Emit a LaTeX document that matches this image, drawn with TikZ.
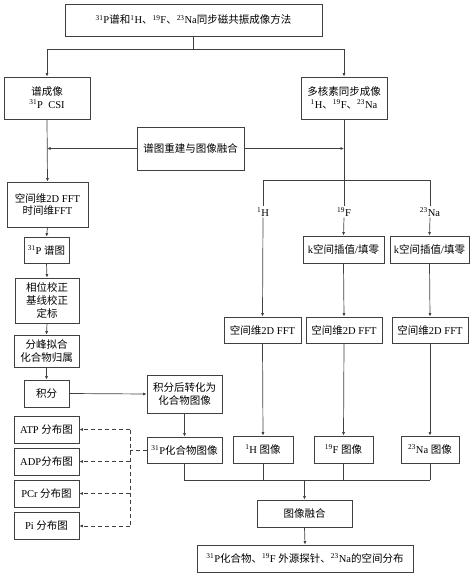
\documentclass[tikz,border=0pt]{standalone}
\usepackage{fontspec}
\setmainfont{Liberation Serif}
\newfontfamily\cjk{Noto Sans CJK SC}
\usepackage{tikz}
\usetikzlibrary{arrows.meta}
\newcommand{\zh}[1]{{\cjk #1}}
\newcommand{\nuc}[2]{\textsuperscript{#1}#2}

\begin{document}
\begin{tikzpicture}[
  x=1pt, y=-1pt,
  every node/.style={font=\fontsize{10.5}{12.8}\selectfont},
  box/.style={draw=black!75, line width=0.7pt, align=center, inner sep=1pt},
  lbl/.style={inner sep=1pt},
  arr/.style={-{Latex[length=3.5pt,width=3pt]}, line width=0.7pt, draw=black!75},
  ln/.style={line width=0.7pt, draw=black!75},
  darr/.style={-{Latex[length=3.5pt,width=3pt]}, line width=0.7pt, draw=black!75, dashed, dash pattern=on 4pt off 3pt}
]
\useasboundingbox (0,0) rectangle (474,576);

%% Top: method
\node[box, minimum width=257pt, minimum height=32pt] (method) at (193.5,20)
  {\nuc{31}{P}\zh{谱和}\nuc{1}{H}\zh{、}\nuc{19}{F}\zh{、}\nuc{23}{Na}\zh{同步磁共振成像方法}};
\node[box, minimum width=86pt, minimum height=42pt] (spec) at (47,98)
  {\zh{谱成像}\\\nuc{31}{P}~~CSI};
\node[box, minimum width=86pt, minimum height=42pt] (multi) at (344,98)
  {\zh{多核素同步成像}\\\nuc{1}{H}\zh{、}\nuc{19}{F}\zh{、}\nuc{23}{Na}};
\coordinate (split) at (193.5,49);
\coordinate (splitL) at (47,49);
\coordinate (splitR) at (344,49);
\draw[ln] (method.south) -- (split);
\draw[arr] (split) -- (splitL) -- (spec.north);
\draw[arr] (split) -- (splitR) -- (multi.north);

%% Reconstruction and fusion
\node[box, minimum width=107pt, minimum height=43pt] (recon) at (190.5,148.5) {\zh{谱图重建与图像融合}};
\coordinate (reconL) at (47,148.5);
\coordinate (reconR) at (344,148.5);
\draw[arr] (recon.west) -- (reconL);
\draw[arr] (recon.east) -- (reconR);

%% 31P spectral branch
\node[box, minimum width=81pt, minimum height=45pt] (fft) at (47.5,204.5)
  {\zh{空间维}2D FFT\\\zh{时间维}FFT};
\node[box, minimum width=45pt, minimum height=26pt] (pmap) at (46.5,250) {\nuc{31}{P} \zh{谱图}};
\node[box, minimum width=64pt, minimum height=45pt] (corr) at (47,300.5)
  {\zh{相位校正}\\\zh{基线校正}\\\zh{定标}};
\node[box, minimum width=65pt, minimum height=32pt] (fit) at (46.5,351)
  {\zh{分峰拟合}\\\zh{化合物归属}};
\node[box, minimum width=45pt, minimum height=27pt] (integ) at (46.5,393.5) {\zh{积分}};
\node[box, minimum width=75pt, minimum height=38pt] (conv) at (184.5,394)
  {\zh{积分后转化为}\\\zh{化合物图像}};
\node[box, minimum width=75pt, minimum height=26pt] (pimg) at (184.5,450) {\nuc{31}{P}\zh{化合物图像}};
\draw[arr] (spec.south) -- (fft.north);
\draw[arr] (fft.south) -- (pmap.north);
\draw[arr] (pmap.south) -- (corr.north);
\draw[arr] (corr.south) -- (fit.north);
\draw[arr] (fit.south) -- (integ.north);
\draw[arr] (integ.east) -- (conv.west);
\draw[arr] (conv.south) -- (pimg.north);

%% Compound maps
\node[box, minimum width=65pt, minimum height=27pt] (atp) at (46.5,429.5) {ATP \zh{分布图}};
\node[box, minimum width=65pt, minimum height=27pt] (adp) at (46.5,461.5) {ADP\zh{分布图}};
\node[box, minimum width=65pt, minimum height=27pt] (pcr) at (46.5,493.5) {PCr \zh{分布图}};
\node[box, minimum width=65pt, minimum height=27pt] (pi) at (46.5,526) {Pi \zh{分布图}};
\coordinate (dmid) at (130,450);
\coordinate (datp) at (130,429.5);
\coordinate (dadp) at (130,461.5);
\coordinate (dpcr) at (130,493.5);
\coordinate (dpi) at (130,526);
\draw[ln, dashed, dash pattern=on 4pt off 3pt] (pimg.west) -- (dmid);
\draw[ln, dashed, dash pattern=on 4pt off 3pt] (datp) -- (dpi);
\draw[darr] (datp) -- (atp.east);
\draw[darr] (dadp) -- (adp.east);
\draw[darr] (dpcr) -- (pcr.east);
\draw[darr] (dpi) -- (pi.east);

%% Multinuclear branch
\coordinate (br) at (344,180);
\coordinate (brL) at (263,180);
\coordinate (brR) at (430,180);
\node[lbl] (labH) at (263,212) {\nuc{1}{H}};
\node[lbl] (labF) at (344,212) {\nuc{19}{F}};
\node[lbl] (labNa) at (430,212) {\nuc{23}{Na}};
\draw[ln] (multi.south) -- (labF.north);
\draw[ln] (brL) -- (brR);
\draw[ln] (brL) -- (labH.north);
\draw[ln] (brR) -- (labNa.north);

\node[box, minimum width=81pt, minimum height=27pt] (kF) at (343.5,249.5) {k\zh{空间插值}/\zh{填零}};
\node[box, minimum width=79pt, minimum height=27pt] (kNa) at (429.5,249.5) {k\zh{空间插值}/\zh{填零}};
\node[box, minimum width=77pt, minimum height=26pt] (fftH) at (262.5,330) {\zh{空间维}2D FFT};
\node[box, minimum width=76pt, minimum height=26pt] (fftF) at (344,330) {\zh{空间维}2D FFT};
\node[box, minimum width=76pt, minimum height=26pt] (fftNa) at (430,330) {\zh{空间维}2D FFT};
\node[box, minimum width=60pt, minimum height=27pt] (imgH) at (263,449.5) {\nuc{1}{H} \zh{图像}};
\node[box, minimum width=59pt, minimum height=27pt] (imgF) at (343.5,449.5) {\nuc{19}{F} \zh{图像}};
\node[box, minimum width=58pt, minimum height=27pt] (imgNa) at (430,449.5) {\nuc{23}{Na} \zh{图像}};
\draw[arr] (labH.south) -- (fftH.north);
\draw[arr] (labF.south) -- (kF.north);
\draw[arr] (labNa.south) -- (kNa.north);
\draw[arr] (kF.south) -- (fftF.north);
\draw[arr] (kNa.south) -- (fftNa.north);
\draw[arr] (fftH.south) -- (imgH.north);
\draw[arr] (fftF.south) -- (imgF.north);
\draw[arr] (fftNa.south) -- (imgNa.north);

%% Fusion
\node[box, minimum width=95pt, minimum height=27pt] (fuse) at (304.5,513.5) {\zh{图像融合}};
\node[box, minimum width=216pt, minimum height=27pt] (result) at (305,558.5)
  {\nuc{31}{P}\zh{化合物、}\nuc{19}{F} \zh{外源探针、}\nuc{23}{Na}\zh{的空间分布}};
\coordinate (mP) at (184.5,480);
\coordinate (mH) at (263,480);
\coordinate (mF) at (343.5,480);
\coordinate (mNa) at (430,480);
\coordinate (mid) at (304.5,480);
\draw[ln] (pimg.south) -- (mP) -- (mNa);
\draw[ln] (imgH.south) -- (mH);
\draw[ln] (imgF.south) -- (mF);
\draw[ln] (imgNa.south) -- (mNa);
\draw[arr] (mid) -- (fuse.north);
\draw[arr] (fuse.south) -- (result.north);

\end{tikzpicture}
\end{document}
